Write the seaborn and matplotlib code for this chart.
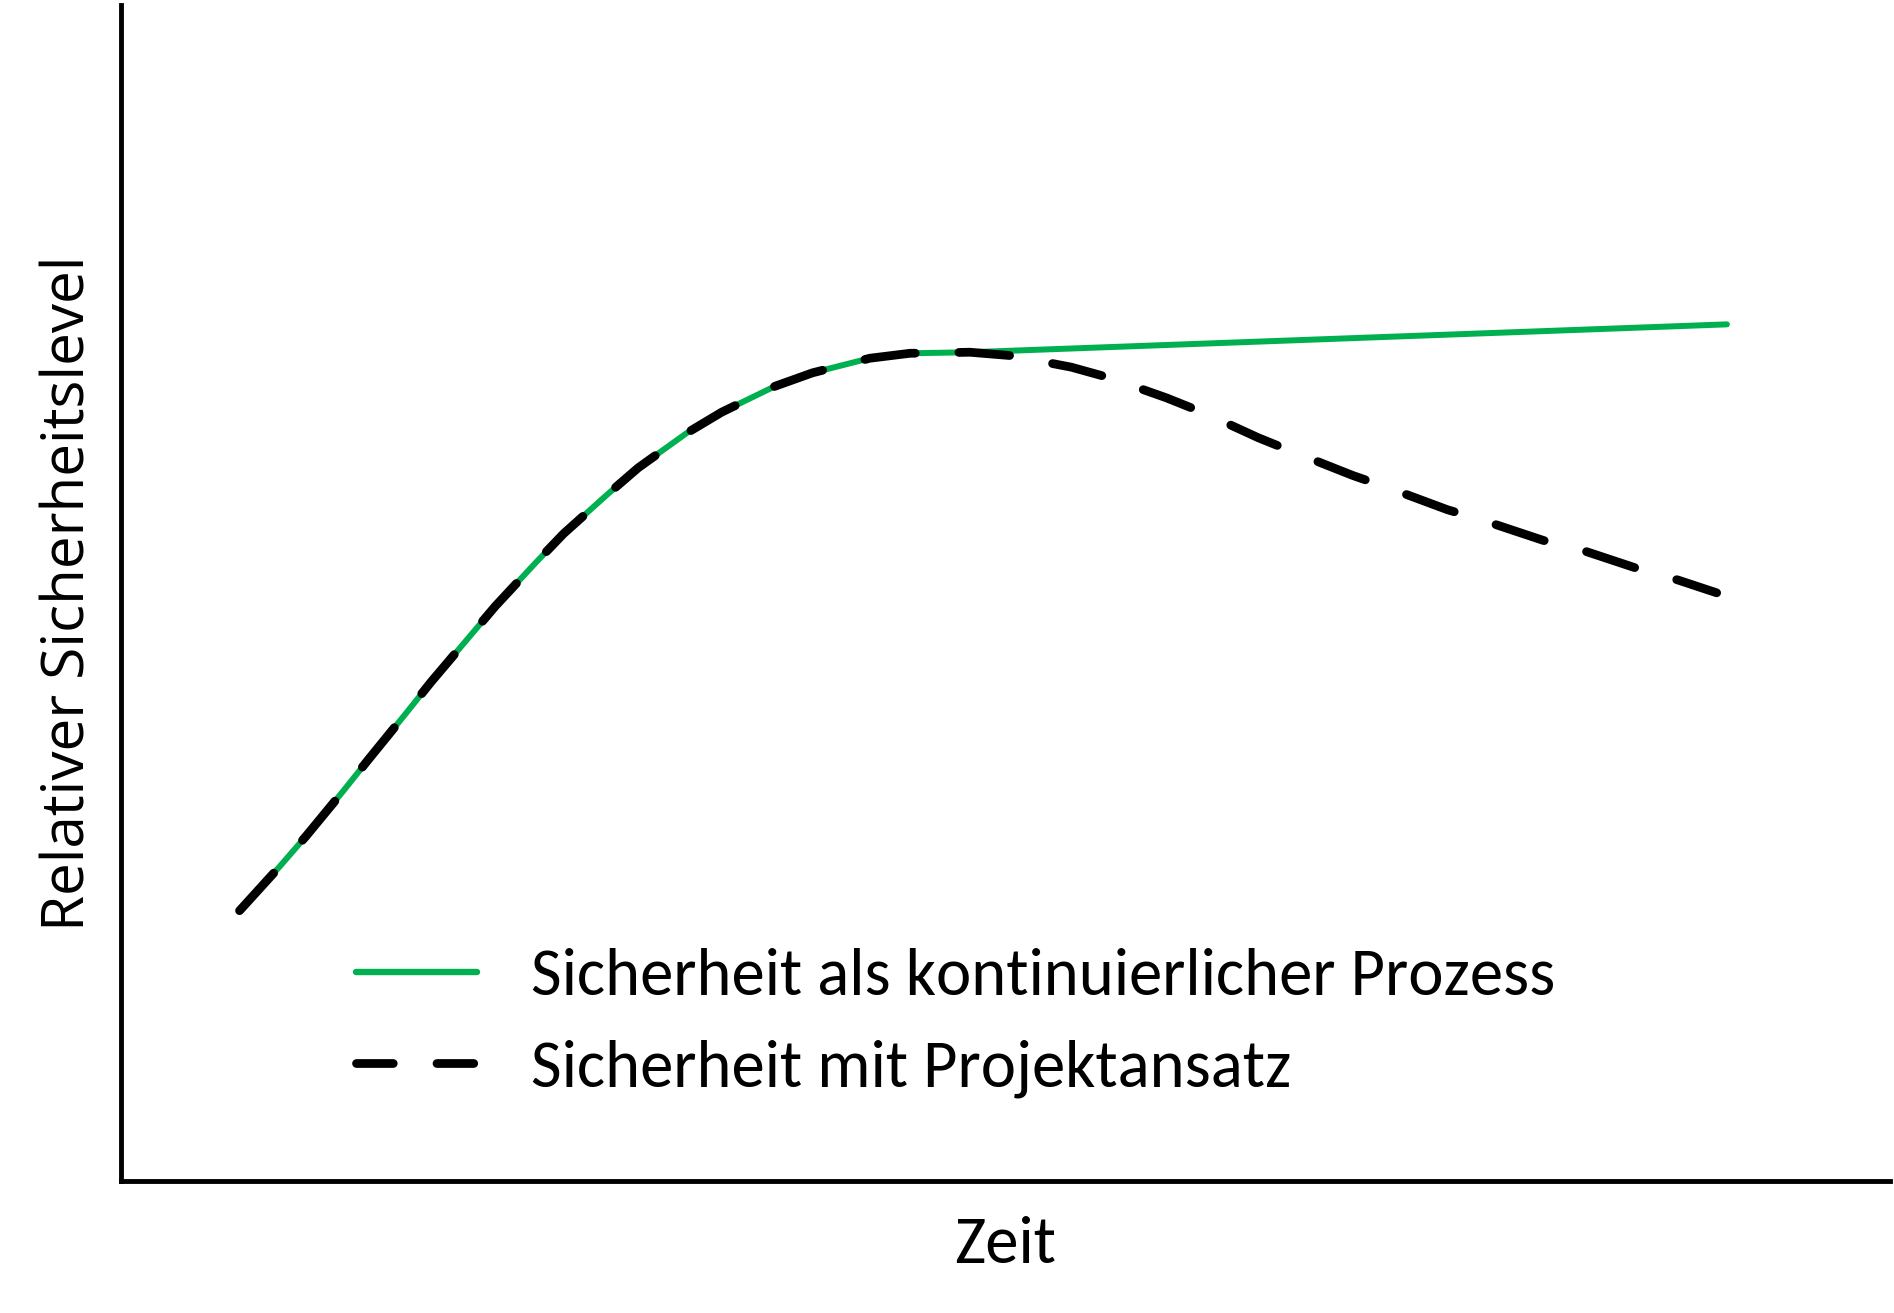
import numpy as np
import pandas as pd
import matplotlib
matplotlib.use("Agg")
import matplotlib.pyplot as plt
import seaborn as sns

# values (x: time 0-100, y: relative level 0-100)
rise_x = [6.70, 8.96, 10.46, 12.57, 13.99, 16.10, 17.53, 19.69, 21.15, 23.41,
          25.02, 27.49, 29.24, 31.97, 33.95, 36.97, 39.09, 42.33, 44.59, 47.99]
rise_y = [22.98, 26.72, 29.32, 33.17, 35.84, 39.74, 42.43, 46.26, 48.85, 52.51,
          55.03, 58.36, 60.63, 63.57, 65.35, 67.56, 68.70, 69.94, 70.36, 70.45]

green_tail_x = [90.78]
green_tail_y = [72.82]

dashed_tail_x = [50.33, 53.72, 55.90, 59.10, 61.26, 64.29, 66.43, 69.62, 71.78,
                 74.97, 77.11, 80.39, 82.62, 85.91, 88.05, 90.20]
dashed_tail_y = [70.16, 69.18, 68.27, 66.57, 65.27, 63.18, 61.88, 59.98, 58.85,
                 57.07, 56.10, 54.46, 53.61, 51.97, 51.07, 50.00]

label_green = "Sicherheit als kontinuierlicher Prozess"
label_dashed = "Sicherheit mit Projektansatz"

green_df = pd.DataFrame({"x": rise_x + green_tail_x, "y": rise_y + green_tail_y})
dashed_df = pd.DataFrame({"x": rise_x + dashed_tail_x, "y": rise_y + dashed_tail_y})

sns.set_style("white")
plt.rcParams['font.family'] = ['Carlito', 'Liberation Sans Narrow', 'Open Sans', 'DejaVu Sans']
plt.rcParams['text.color'] = 'black'
plt.rcParams['axes.labelcolor'] = 'black'

fig = plt.figure(figsize=(18.94, 13.13), dpi=100)
ax = fig.add_axes([0.0639, 0.1005, 0.934, 0.896])

sns.lineplot(data=green_df, x="x", y="y", ax=ax, color="#00b050", linewidth=4.3,
             estimator=None, sort=False, label=label_green, solid_capstyle="round")
sns.lineplot(data=dashed_df, x="x", y="y", ax=ax, color="black", linewidth=6.3,
             estimator=None, sort=False, label=label_dashed)
line = ax.lines[-1]
line.set_dashes([5.8, 5.0])
line.set_dash_capstyle("round")

ax.set_xlim(0, 100)
ax.set_ylim(0, 100)
ax.set_xticks([])
ax.set_yticks([])
for side in ["top", "right"]:
    ax.spines[side].set_visible(False)
for side in ["left", "bottom"]:
    ax.spines[side].set_color("black")
    ax.spines[side].set_linewidth(3.5)

ax.set_xlabel("Zeit", fontsize=48, labelpad=25)
ax.set_ylabel("Relativer Sicherheitslevel", fontsize=42, labelpad=16,
              family=['Open Sans', 'DejaVu Sans'])

leg = ax.legend(loc="upper left", bbox_to_anchor=(0.099, 0.249), frameon=False,
                fontsize=48, handlelength=1.81, handletextpad=0.82, labelspacing=0.5)
leg.get_lines()[0].set_linewidth(4.6)
leg.get_lines()[1].set_dashes([4.2, 5.0])
leg.get_lines()[1].set_dash_capstyle("round")

fig.savefig("out.png", dpi=100)
